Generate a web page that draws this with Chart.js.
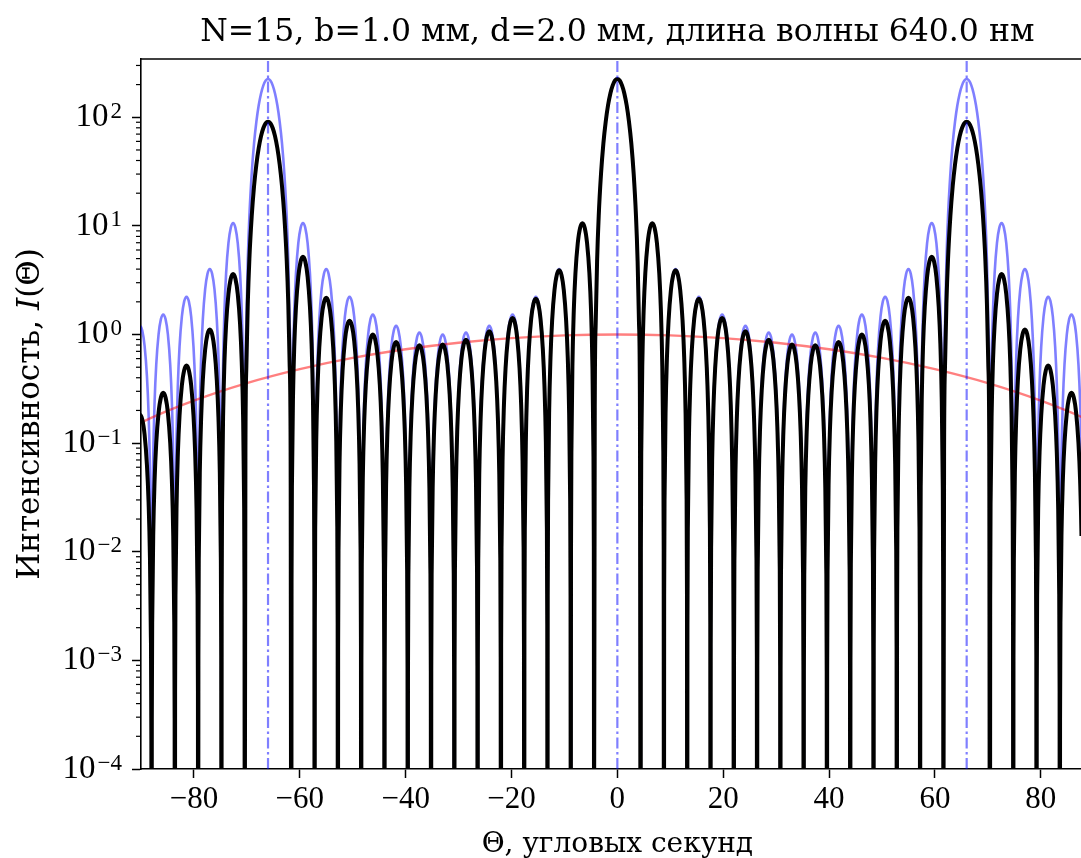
<!DOCTYPE html>
<html lang="ru">
<head>
<meta charset="UTF-8">
<title>N=15, b=1.0 мм, d=2.0 мм</title>
<script src="https://cdn.jsdelivr.net/npm/chart.js"></script>
<style>
  body{margin:0;background:#fff;}
  #wrap{width:1081px;height:858px;position:relative;}
</style>
</head>
<body>
<div id="wrap"><canvas id="chart"></canvas></div>
<script>
// ---- values ----
// zeros of the pattern (lobe edges), angular seconds
const lobeEdges=[-92.4,-88.0,-83.6,-79.2,-74.8,-70.4,-61.6,-57.2,-52.8,-48.4,-44.0,-39.6,-35.2,-30.8,-26.4,-22.0,-17.6,-13.2,-8.8,-4.4,
  4.4,8.8,13.2,17.6,22.0,26.4,30.8,35.2,39.6,44.0,48.4,52.8,57.2,61.6,70.4,74.8,79.2,83.6,88.0];
// peak of each lobe, black curve (grating with slit envelope)
const blackPeaks=[0.183,0.291,0.519,1.11,3.6,91,5.2,2.18,1.34,1.0,0.852,0.797,0.811,0.893,1.071,1.42,2.13,3.91,10.6,
  225,10.6,3.91,2.13,1.42,1.071,0.893,0.811,0.797,0.852,1.0,1.34,2.18,5.2,91,3.6,1.11,0.519,0.291];
// peak of each lobe, blue curve (grating factor alone)
const bluePeaks=[1.2,1.53,2.23,4.0,10.6,225,10.6,4.0,2.23,1.53,1.2,1.045,1.0,1.045,1.2,1.53,2.23,4.0,10.6,
  225,10.6,4.0,2.23,1.53,1.2,1.045,1.0,1.045,1.2,1.53,2.23,4.0,10.6,225,10.6,4.0,2.23,1.53];
// shape of a side lobe: place inside the lobe (0..1) and height relative to its peak
const sideU=[0,0.01,0.03,0.07,0.13,0.2,0.3,0.4,0.5,0.6,0.7,0.8,0.87,0.93,0.97,0.99];
const sideR=[1e-7,0.001,0.0089,0.048,0.158,0.345,0.655,0.905,1,0.905,0.655,0.345,0.158,0.048,0.0089,0.001];
// shape of a principal lobe
const mainU=[0,0.015,0.035,0.065,0.1,0.15,0.2,0.25,0.3,0.35,0.4,0.45,0.5,0.55,0.6,0.65,0.7,0.75,0.8,0.85,0.9,0.935,0.965,0.985];
const mainR=[1e-7,0.00095,0.0056,0.021,0.055,0.135,0.255,0.405,0.573,0.737,0.875,0.968,1,0.968,0.875,0.737,0.573,0.405,0.255,0.135,0.055,0.021,0.0056,0.00095];
// single slit envelope (red)
const envTheta=[-95,-90,-80,-70,-60,-50,-40,-30,-20,-10,0,10,20,30,40,50,60,70,80,90,95];
const envValue=[0.11,0.154,0.246,0.357,0.480,0.609,0.732,0.841,0.927,0.982,1.0,0.982,0.927,0.841,0.732,0.609,0.480,0.357,0.246,0.154,0.11];
// principal maxima
const principalTheta=[-66,0,66];

const xTicks=[-80,-60,-40,-20,0,20,40,60,80];
const yTicks=[1e-4,1e-3,1e-2,1e-1,1,10,100];
const yExp=['−4','−3','−2','−1','0','1','2'];
const xMin=-90, xMax=87.6, yMin=1e-4, yMax=344;

const titleText='N=15, b=1.0 мм, d=2.0 мм, длина волны 640.0 нм';
const xLabel='Θ, угловых секунд';
const yLabel=['Интенсивность, ','I','(Θ)'];

const SERIF='"DejaVu Serif", serif';
const TICKF='"Liberation Serif", serif';

function lobePoints(peaks){
  const pts=[];
  for(let i=0;i<peaks.length;i++){
    const a=lobeEdges[i], b=lobeEdges[i+1];
    const main=(b-a)>6;
    const U=main?mainU:sideU, R=main?mainR:sideR;
    for(let j=0;j<U.length;j++) pts.push({x:a+U[j]*(b-a), y:peaks[i]*R[j]});
  }
  pts.push({x:lobeEdges[lobeEdges.length-1], y:1e-8});
  return pts;
}

const vLines=[];
principalTheta.forEach(t=>{vLines.push({x:t,y:yMin},{x:t,y:yMax},{x:t,y:null});});

const extras={
  id:'extras',
  afterDraw(chart){
    const {ctx,chartArea:a,scales:{x,y}}=chart;
    ctx.save();
    ctx.strokeStyle='#000';ctx.lineWidth=1.6;
    ctx.beginPath();ctx.moveTo(a.left,a.top);ctx.lineTo(a.right,a.top);ctx.stroke();
    // minor ticks of the log axis
    ctx.lineWidth=1.2;
    for(let k=-4;k<=2;k++){
      for(let m=2;m<=9;m++){
        const v=m*Math.pow(10,k);
        if(v>y.max) continue;
        const py=y.getPixelForValue(v);
        ctx.beginPath();ctx.moveTo(a.left-5,py);ctx.lineTo(a.left,py);ctx.stroke();
      }
    }
    // tick labels 10^n
    ctx.fillStyle='#000';ctx.textAlign='right';
    yTicks.forEach((v,i)=>{
      const py=y.getPixelForValue(v);
      ctx.font='23px '+TICKF;ctx.textBaseline='alphabetic';
      const ew=ctx.measureText(yExp[i]).width;
      ctx.fillText(yExp[i],a.left-19,py+0.5);
      ctx.font='33px '+TICKF;ctx.textBaseline='middle';
      ctx.fillText('10',a.left-19-ew-2,py);
    });
    // title and x label, centred on the axes (axes run to +90, beyond the picture)
    const cx=(x.getPixelForValue(-90)+x.getPixelForValue(90))/2;
    ctx.textAlign='center';ctx.textBaseline='alphabetic';
    ctx.font='31.5px '+SERIF;
    ctx.fillText(titleText,cx,41);
    ctx.font='28px '+SERIF;
    ctx.fillText(xLabel,cx,852);
    // y label with italic I
    const fonts=['31px '+SERIF,'italic 31px '+SERIF,'31px '+SERIF];
    const widths=yLabel.map((s,i)=>{ctx.font=fonts[i];return ctx.measureText(s).width;});
    const total=widths.reduce((p,q)=>p+q,0);
    ctx.translate(39,(a.top+a.bottom)/2);
    ctx.rotate(-Math.PI/2);
    ctx.textAlign='left';
    let px=-total/2;
    yLabel.forEach((s,i)=>{ctx.font=fonts[i];ctx.fillText(s,px,0);px+=widths[i];});
    ctx.restore();
  }
};

new Chart(document.getElementById('chart'),{
  type:'line',
  data:{datasets:[
    {data:vLines,borderColor:'rgba(0,0,255,0.5)',borderWidth:2.2,borderDash:[11,3.5,2.5,3.5],pointRadius:0,spanGaps:false,order:0,clip:0},
    {data:lobePoints(blackPeaks),borderColor:'#000',borderWidth:4,pointRadius:0,cubicInterpolationMode:'monotone',order:1,clip:0},
    {data:envTheta.map((t,i)=>({x:t,y:envValue[i]})),borderColor:'rgba(255,0,0,0.5)',borderWidth:2.4,pointRadius:0,cubicInterpolationMode:'monotone',order:2,clip:0},
    {data:lobePoints(bluePeaks),borderColor:'rgba(0,0,255,0.5)',borderWidth:2.6,pointRadius:0,cubicInterpolationMode:'monotone',order:3,clip:0}
  ]},
  options:{
    responsive:true,maintainAspectRatio:false,animation:false,
    layout:{padding:{left:0,right:0,top:59,bottom:0}},
    plugins:{legend:{display:false},tooltip:{enabled:false},title:{display:false}},
    scales:{
      x:{type:'linear',min:xMin,max:xMax,
        afterFit:s=>{s.height=89;},
        afterBuildTicks:s=>{s.ticks=xTicks.map(v=>({value:v}));},
        grid:{drawOnChartArea:false,drawTicks:true,tickLength:9,tickWidth:1.5,tickColor:'#000'},
        border:{display:true,color:'#000',width:1.6},
        ticks:{color:'#000',font:{family:TICKF,size:31,lineHeight:1},padding:6,maxRotation:0,autoSkip:false,
          callback:v=>v<0?'−'+Math.abs(v):String(v)}
      },
      y:{type:'logarithmic',min:yMin,max:yMax,
        afterFit:s=>{s.width=141;},
        afterBuildTicks:s=>{s.ticks=yTicks.map(v=>({value:v}));},
        grid:{drawOnChartArea:false,drawTicks:true,tickLength:9,tickWidth:1.5,tickColor:'#000'},
        border:{display:true,color:'#000',width:1.6},
        ticks:{display:true,autoSkip:false,callback:()=>''}
      }
    }
  },
  plugins:[extras]
});
</script>
</body>
</html>
